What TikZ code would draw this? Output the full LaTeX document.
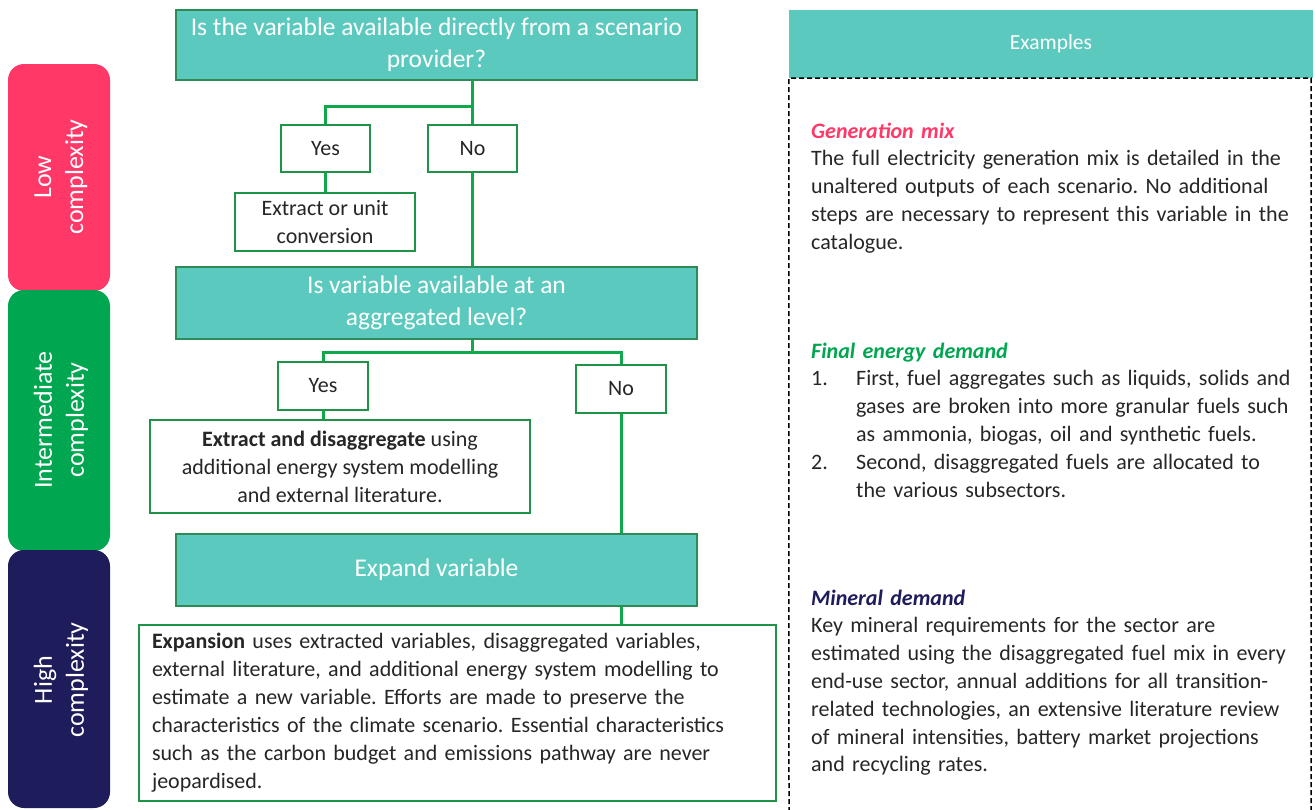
\documentclass[tikz,border=0pt]{standalone}
\usepackage{fontspec}
\setmainfont{Carlito}
\frenchspacing
\usetikzlibrary{calc}
\definecolor{teal1}{HTML}{5CC9BE}
\definecolor{tealedge}{HTML}{2E8B57}
\definecolor{boxedge}{HTML}{1F9448}
\definecolor{conncol}{HTML}{0FA84A}
\definecolor{pinkc}{HTML}{FF3868}
\definecolor{greenc}{HTML}{00A650}
\definecolor{navyc}{HTML}{1F1C5B}
\definecolor{txt}{HTML}{262626}
\tikzset{
  tealbox/.style={draw=tealedge, line width=1.4pt, fill=teal1, text=white, inner sep=0pt, align=center, font=\fontsize{25.5}{32}\selectfont},
  whitebox/.style={draw=boxedge, line width=1.4pt, fill=white, text=txt, inner sep=0pt, align=center, font=\fontsize{22}{28}\selectfont},
  conn/.style={draw=conncol, line width=3pt},
  sidebar/.style={rounded corners=16pt},
  sidelabel/.style={text=white, rotate=90, align=center, font=\fontsize{26}{32}\selectfont},
  exbody/.style={anchor=north west, inner sep=0pt, text=txt, align=left, text width=498pt, font=\fontsize{22}{27.8}\selectfont},
}
\begin{document}
\begin{tikzpicture}[x=1pt,y=-1pt]
\useasboundingbox (0,0) rectangle (1315,809);
% side bars
\fill[pinkc, sidebar] (8,64) rectangle (110,291);
\fill[greenc, sidebar] (8,290) rectangle (110,551);
\fill[navyc, sidebar] (8,550) rectangle (110,808);
\node[sidelabel] (lowl) at (61,177) {Low\\complexity};
\node[sidelabel] (midl) at (61,420) {Intermediate\\complexity};
\node[sidelabel] (highl) at (61,680) {High\\complexity};
% flowchart nodes
\node[tealbox, minimum width=521pt, minimum height=70pt] (q1) at (436.5,45) {Is the variable available directly from a scenario\\provider?};
\node[whitebox, minimum width=89pt, minimum height=47pt] (yes1) at (325.5,148.5) {Yes};
\node[whitebox, minimum width=89pt, minimum height=47pt] (no1) at (472.5,148.5) {No};
\node[whitebox, minimum width=180pt, minimum height=58pt] (ex1) at (325,222) {Extract or unit\\conversion};
\node[tealbox, minimum width=521pt, minimum height=72pt] (q2) at (436.5,303) {Is variable available at an\\aggregated level?};
\node[whitebox, minimum width=90pt, minimum height=48pt] (yes2) at (323,386) {Yes};
\node[whitebox, minimum width=90pt, minimum height=48pt] (no2) at (621,389) {No};
\node[whitebox, minimum width=380pt, minimum height=93pt] (ed) at (340,466.5) {\textbf{Extract and disaggregate} using\\additional energy system modelling\\and external literature.};
\node[tealbox, minimum width=521pt, minimum height=72pt] (expand) at (436.5,570) {Expand variable};
\node[whitebox, minimum width=637pt, minimum height=176pt, text width=611pt, align=left] (expansion) at (457.5,713) {\textbf{Expansion} uses extracted variables, disaggregated variables,\\external literature, and additional energy system modelling to\\estimate a new variable. Efforts are made to preserve the\\characteristics of the climate scenario. Essential characteristics\\such as the carbon budget and emissions pathway are never\\jeopardised.};
% connectors
\coordinate (j1) at (472.5,106);
\coordinate (j2) at (472.5,352);
\draw[conn] (q1.south -| j1) -- (no1.north);
\draw[conn] (yes1.north) |- (j1);
\draw[conn] (yes1.south) -- (ex1.north -| yes1.south);
\draw[conn] (no1.south) -- (no1.south |- q2.north);
\draw[conn] (q2.south -| j2) -- (j2);
\draw[conn] (yes2.north) |- (no2.north |- j2) -- (no2.north);
\draw[conn] (yes2.south) -- (ed.north -| yes2.south);
\draw[conn] (no2.south) -- (no2.south |- expand.north);
\draw[conn] (expand.south -| no2.south) -- (expansion.north -| no2.south);
% examples panel
\node[fill=teal1, minimum width=524pt, minimum height=68pt, inner sep=0pt, text=white, font=\fontsize{21.5}{26}\selectfont] (exhead) at (1051,44) {Examples};
\coordinate (exbl) at (789,812);
\coordinate (exbr) at (1311,812);
\draw[black, line width=1.5pt, dash pattern=on 5pt off 3pt] (exbl) -- (exhead.south west) -- (exhead.south east -| exbr) -- (exbr);
\node[exbody] (genmix) at (811,118.5) {\strut\textcolor{pinkc}{\textbf{\textit{Generation mix}}}\\The full electricity generation mix is detailed in the\\unaltered outputs of each scenario. No additional\\steps are necessary to represent this variable in the\\catalogue.};
\node[exbody] (finalen) at (811,338.5) {\strut\textcolor{greenc}{\textbf{\textit{Final energy demand}}}\\
\makebox[45pt][l]{1.}First, fuel aggregates such as liquids, solids and\\
\hspace*{45pt}gases are broken into more granular fuels such\\
\hspace*{45pt}as ammonia, biogas, oil and synthetic fuels.\\
\makebox[45pt][l]{2.}Second, disaggregated fuels are allocated to\\
\hspace*{45pt}the various subsectors.};
\node[exbody] (mineral) at (811,585.5) {\strut\textcolor{navyc}{\textbf{\textit{Mineral demand}}}\\Key mineral requirements for the sector are\\estimated using the disaggregated fuel mix in every\\end-use sector, annual additions for all transition-\\related technologies, an extensive literature review\\of mineral intensities, battery market projections\\and recycling rates.};
\end{tikzpicture}
\end{document}
